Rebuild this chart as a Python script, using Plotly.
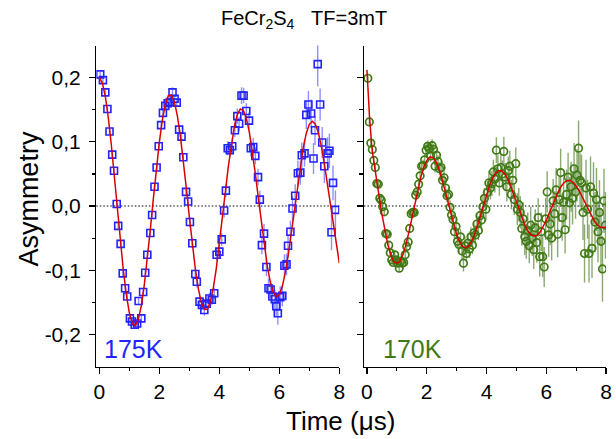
import plotly.graph_objects as go

# ---------------- data ----------------
# 175 K panel (measured points)
left_t = [0.03, 0.12, 0.20, 0.27, 0.34, 0.43, 0.49, 0.58, 0.63, 0.71,
          0.78, 0.86, 0.93, 1.02, 1.09, 1.18, 1.26, 1.31, 1.40, 1.46,
          1.53, 1.60, 1.70, 1.76, 1.84, 1.91, 1.98, 2.06, 2.12, 2.20,
          2.28, 2.35, 2.44, 2.51, 2.58, 2.66, 2.74, 2.80, 2.89, 2.96,
          3.02, 3.10, 3.20, 3.25, 3.34, 3.42, 3.50, 3.58, 3.67, 3.75,
          3.83, 3.91, 4.00, 4.08, 4.16, 4.22, 4.28, 4.35, 4.43, 4.52,
          4.60, 4.66, 4.74, 4.81, 4.90, 4.99, 5.05, 5.13, 5.20, 5.29,
          5.35, 5.42, 5.49, 5.57, 5.64, 5.71, 5.77, 5.85, 5.90, 5.95,
          6.03, 6.10, 6.17, 6.24, 6.29, 6.37, 6.44, 6.53, 6.62, 6.70,
          6.75, 6.84, 6.90, 6.97, 7.06, 7.14, 7.19, 7.28, 7.36, 7.43,
          7.50, 7.61, 7.67, 7.74, 7.79, 7.87]
left_a = [0.205, 0.196, 0.177, 0.151, 0.116, 0.080, 0.055, 0.003, -0.031, -0.059,
          -0.105, -0.128, -0.141, -0.175, -0.180, -0.185, -0.183, -0.148, -0.175, -0.134,
          -0.104, -0.076, -0.042, -0.014, 0.030, 0.060, 0.093, 0.126, 0.145, 0.156,
          0.160, 0.162, 0.177, 0.167, 0.161, 0.119, 0.108, 0.076, 0.022, 0.007,
          -0.025, -0.058, -0.106, -0.118, -0.149, -0.154, -0.162, -0.152, -0.144, -0.146,
          -0.136, -0.076, -0.071, -0.052, -0.007, 0.024, 0.090, 0.087, 0.093, 0.118,
          0.140, 0.128, 0.172, 0.172, 0.148, 0.133, 0.090, 0.092, 0.078, 0.045,
          0.010, -0.061, -0.043, -0.095, -0.128, -0.130, -0.141, -0.145, -0.156, -0.167,
          -0.142, -0.140, -0.093, -0.091, -0.062, -0.040, -0.004, 0.016, 0.051, 0.052,
          0.079, 0.082, 0.142, 0.158, 0.144, 0.074, 0.118, 0.221, 0.158, 0.099,
          0.062, 0.082, 0.086, -0.041, 0.036, -0.006]
left_err = [0.004, 0.004, 0.004, 0.004, 0.004, 0.004, 0.004, 0.004, 0.004, 0.004,
            0.004, 0.004, 0.004, 0.005, 0.005, 0.005, 0.005, 0.005, 0.005, 0.005,
            0.005, 0.005, 0.005, 0.005, 0.005, 0.005, 0.005, 0.006, 0.006, 0.006,
            0.006, 0.007, 0.008, 0.006, 0.006, 0.006, 0.007, 0.006, 0.006, 0.007,
            0.008, 0.008, 0.008, 0.009, 0.008, 0.008, 0.009, 0.008, 0.009, 0.008,
            0.009, 0.009, 0.010, 0.010, 0.011, 0.010, 0.011, 0.010, 0.012, 0.011,
            0.012, 0.011, 0.013, 0.012, 0.012, 0.013, 0.013, 0.014, 0.013, 0.013,
            0.014, 0.014, 0.015, 0.014, 0.015, 0.014, 0.016, 0.015, 0.015, 0.018,
            0.017, 0.016, 0.018, 0.017, 0.018, 0.017, 0.019, 0.018, 0.020, 0.019,
            0.020, 0.021, 0.022, 0.021, 0.022, 0.024, 0.023, 0.035, 0.025, 0.024,
            0.026, 0.025, 0.027, 0.028, 0.027, 0.030]

# 175 K fit curve
fit_left_t = [0.0, 0.1, 0.2, 0.3, 0.4, 0.5, 0.6, 0.7, 0.8, 0.9,
              1.0, 1.1, 1.2, 1.3, 1.4, 1.5, 1.6, 1.7, 1.8, 1.9,
              2.0, 2.1, 2.2, 2.3, 2.4, 2.5, 2.6, 2.7, 2.8, 2.9,
              3.0, 3.1, 3.2, 3.3, 3.4, 3.5, 3.6, 3.7, 3.8, 3.9,
              4.0, 4.1, 4.2, 4.3, 4.4, 4.5, 4.6, 4.7, 4.8, 4.9,
              5.0, 5.1, 5.2, 5.3, 5.4, 5.5, 5.6, 5.7, 5.8, 5.9,
              6.0, 6.1, 6.2, 6.3, 6.4, 6.5, 6.6, 6.7, 6.8, 6.9,
              7.0, 7.1, 7.2, 7.3, 7.4, 7.5, 7.6, 7.7, 7.8, 7.9, 8.0]
fit_left = [0.2000, 0.1919, 0.1706, 0.1375, 0.0954, 0.0472, -0.0038, -0.0540, -0.0998, -0.1381,
            -0.1664, -0.1828, -0.1864, -0.1769, -0.1552, -0.1229, -0.0826, -0.0369, 0.0107, 0.0571,
            0.0990, 0.1335, 0.1583, 0.1718, 0.1732, 0.1626, 0.1408, 0.1095, 0.0709, 0.0278,
            -0.0167, -0.0595, -0.0977, -0.1286, -0.1503, -0.1613, -0.1609, -0.1493, -0.1276, -0.0971,
            -0.0603, -0.0198, 0.0217, 0.0612, 0.0960, 0.1237, 0.1425, 0.1511, 0.1492, 0.1369,
            0.1152, 0.0858, 0.0508, 0.0126, -0.0260, -0.0623, -0.0939, -0.1186, -0.1347, -0.1414,
            -0.1380, -0.1252, -0.1038, -0.0754, -0.0422, -0.0063, 0.0295, 0.0629, 0.0915, 0.1134,
            0.1272, 0.1320, 0.1276, 0.1143, 0.0932, 0.0660, 0.0344, 0.0008, -0.0324, -0.0630, -0.0889]

# 170 K panel (measured points)
right_t = [0.03, 0.08, 0.13, 0.18, 0.23, 0.28, 0.33, 0.38, 0.43, 0.48,
           0.53, 0.58, 0.63, 0.68, 0.73, 0.78, 0.83, 0.88, 0.93, 0.98,
           1.03, 1.08, 1.13, 1.18, 1.23, 1.28, 1.33, 1.38, 1.43, 1.48,
           1.53, 1.58, 1.63, 1.68, 1.73, 1.78, 1.83, 1.88, 1.93, 1.98,
           2.03, 2.08, 2.13, 2.18, 2.23, 2.28, 2.33, 2.38, 2.43, 2.48,
           2.53, 2.58, 2.63, 2.68, 2.73, 2.78, 2.83, 2.88, 2.93, 2.98,
           3.03, 3.08, 3.13, 3.18, 3.23, 3.28, 3.33, 3.38, 3.43, 3.48,
           3.53, 3.58, 3.63, 3.68, 3.73, 3.78, 3.83, 3.88, 3.93, 3.98,
           4.03, 4.08, 4.13, 4.18, 4.23, 4.28, 4.33, 4.38, 4.43, 4.48,
           4.53, 4.58, 4.63, 4.68, 4.73, 4.78, 4.83, 4.88, 4.93, 4.98,
           5.03, 5.08, 5.13, 5.18, 5.23, 5.28, 5.33, 5.38, 5.43, 5.48,
           5.53, 5.58, 5.63, 5.68, 5.73, 5.78, 5.83, 5.88, 5.93, 5.98,
           6.03, 6.08, 6.13, 6.18, 6.23, 6.28, 6.33, 6.38, 6.43, 6.48,
           6.53, 6.58, 6.63, 6.68, 6.73, 6.78, 6.83, 6.88, 6.93, 6.98,
           7.03, 7.08, 7.13, 7.18, 7.23, 7.28, 7.33, 7.38, 7.43, 7.48,
           7.53, 7.58, 7.63, 7.68, 7.73, 7.78, 7.83, 7.88, 7.93, 7.98]
right_a = [0.199, 0.131, 0.098, 0.088, 0.071, 0.060, 0.035, 0.034, 0.012, 0.009,
           -0.001, -0.009, -0.043, -0.044, -0.061, -0.073, -0.084, -0.088, -0.076, -0.084,
           -0.089, -0.097, -0.086, -0.089, -0.088, -0.076, -0.063, -0.056, -0.035, -0.012,
           -0.010, -0.010, 0.017, 0.022, 0.034, 0.047, 0.062, 0.063, 0.072, 0.087,
           0.093, 0.089, 0.078, 0.094, 0.088, 0.062, 0.079, 0.069, 0.058, 0.060,
           0.040, 0.044, 0.028, 0.016, 0.018, -0.002, -0.014, -0.021, -0.040, -0.032,
           -0.055, -0.060, -0.048, -0.070, -0.089, -0.062, -0.074, -0.058, -0.067, -0.048,
           -0.061, -0.042, -0.045, -0.028, -0.038, -0.015, -0.022, -0.001, 0.012, -0.005,
           0.021, 0.036, 0.028, 0.035, 0.053, 0.042, 0.087, 0.058, 0.036, 0.060,
           0.050, 0.085, 0.045, 0.030, 0.055, 0.062, 0.018, 0.040, 0.010, 0.066,
           -0.005, 0.002, -0.010, -0.035, -0.020, -0.048, -0.055, -0.038, -0.062, -0.030,
           -0.050, -0.068, -0.034, -0.057, -0.018, -0.079, -0.040, -0.079, -0.095, -0.020,
           0.022, -0.045, -0.028, -0.050, 0.008, -0.012, 0.025, -0.044, 0.010, 0.052,
           -0.018, 0.006, -0.037, 0.018, 0.045, 0.005, 0.030, 0.012, 0.058, 0.022,
           0.048, 0.090, 0.040, 0.036, -0.010, -0.074, 0.028, -0.005, -0.074, 0.030,
           -0.066, 0.020, -0.025, 0.010, -0.040, -0.010, -0.055, -0.098, 0.008, -0.030]
right_err = [0.004, 0.004, 0.004, 0.004, 0.004, 0.004, 0.004, 0.005, 0.004, 0.005,
             0.005, 0.005, 0.005, 0.006, 0.005, 0.005, 0.006, 0.005, 0.006, 0.006,
             0.006, 0.006, 0.007, 0.006, 0.006, 0.007, 0.006, 0.007, 0.007, 0.007,
             0.007, 0.008, 0.007, 0.008, 0.007, 0.008, 0.008, 0.009, 0.008, 0.009,
             0.009, 0.008, 0.009, 0.010, 0.009, 0.010, 0.009, 0.010, 0.010, 0.011,
             0.010, 0.011, 0.011, 0.010, 0.012, 0.011, 0.012, 0.011, 0.012, 0.013,
             0.012, 0.013, 0.012, 0.014, 0.013, 0.014, 0.013, 0.015, 0.014, 0.015,
             0.014, 0.016, 0.015, 0.016, 0.015, 0.017, 0.016, 0.017, 0.016, 0.018,
             0.018, 0.019, 0.018, 0.020, 0.019, 0.021, 0.020, 0.021, 0.020, 0.022,
             0.021, 0.023, 0.022, 0.023, 0.022, 0.024, 0.023, 0.025, 0.024, 0.025,
             0.025, 0.026, 0.025, 0.027, 0.026, 0.028, 0.027, 0.028, 0.027, 0.029,
             0.028, 0.030, 0.029, 0.031, 0.030, 0.031, 0.030, 0.032, 0.031, 0.033,
             0.032, 0.034, 0.033, 0.035, 0.034, 0.035, 0.034, 0.036, 0.035, 0.037,
             0.036, 0.038, 0.037, 0.039, 0.038, 0.040, 0.039, 0.041, 0.040, 0.042,
             0.041, 0.043, 0.042, 0.044, 0.043, 0.045, 0.044, 0.046, 0.045, 0.047,
             0.046, 0.048, 0.047, 0.049, 0.048, 0.050, 0.049, 0.051, 0.050, 0.052]

# 170 K fit curve
fit_right_t = [0.0, 0.02, 0.04, 0.06, 0.08, 0.10, 0.13, 0.16, 0.20, 0.25, 0.30, 0.35, 0.40, 0.45,
               0.5, 0.6, 0.7, 0.8, 0.9, 1.0, 1.1, 1.2, 1.3, 1.4,
               1.5, 1.6, 1.7, 1.8, 1.9, 2.0, 2.1, 2.2, 2.3, 2.4,
               2.5, 2.6, 2.7, 2.8, 2.9, 3.0, 3.1, 3.2, 3.3, 3.4,
               3.5, 3.6, 3.7, 3.8, 3.9, 4.0, 4.1, 4.2, 4.3, 4.4,
               4.5, 4.6, 4.7, 4.8, 4.9, 5.0, 5.1, 5.2, 5.3, 5.4,
               5.5, 5.6, 5.7, 5.8, 5.9, 6.0, 6.1, 6.2, 6.3, 6.4,
               6.5, 6.6, 6.7, 6.8, 6.9, 7.0, 7.1, 7.2, 7.3, 7.4,
               7.5, 7.6, 7.7, 7.8, 7.9, 8.0]
fit_right = [0.212, 0.200, 0.182, 0.162, 0.143, 0.127, 0.108, 0.094, 0.079, 0.062, 0.047, 0.032, 0.017, 0.002,
             -0.0127, -0.0387, -0.0606, -0.0768, -0.0866, -0.0897, -0.0859, -0.0762, -0.0609, -0.0414,
             -0.0195, 0.0032, 0.0250, 0.0444, 0.0600, 0.0708, 0.0761, 0.0757, 0.0698, 0.0589,
             0.0441, 0.0265, 0.0073, -0.0118, -0.0295, -0.0446, -0.0560, -0.0629, -0.0652, -0.0625,
             -0.0554, -0.0445, -0.0305, -0.0147, 0.0016, 0.0175, 0.0315, 0.0430, 0.0509, 0.0549,
             0.0548, 0.0507, 0.0430, 0.0324, 0.0196, 0.0059, -0.0080, -0.0208, -0.0318, -0.0402,
             -0.0453, -0.0470, -0.0453, -0.0403, -0.0325, -0.0225, -0.0111, 0.0007, 0.0122, 0.0224,
             0.0308, 0.0366, 0.0397, 0.0397, 0.0368, 0.0313, 0.0237, 0.0146, 0.0046, -0.0054,
             -0.0147, -0.0227, -0.0289, -0.0327, -0.0340, -0.0328]

# ticks
x_tickvals = [0, 2, 4, 6, 8]
x_ticktext = ["0", "2", "4", "6", "8"]
x_minor = [1, 3, 5, 7]
y_tickvals = [-0.2, -0.1, 0.0, 0.1, 0.2]
y_ticktext = ["-0,2", "-0,1", "0,0", "0,1", "0,2"]
y_minor = [-0.15, -0.05, 0.05, 0.15]

# ---------------- style ----------------
FONT = "Liberation Sans, Arial, sans-serif"
BLUE = "#2323ff"
BLUE_ERR = "rgba(70,70,255,0.6)"
GREEN = "#3f7a14"
GREEN_ERR = "rgba(75,125,35,0.65)"
RED = "#d80000"

XL = [94.7 / 616, 341.3 / 616]
XR = [366.3 / 616, 612.0 / 616]
YD = [1 - 366.5 / 439, 1 - 45.5 / 439]
XRANGE = [-0.1, 8.0]
YRANGE = [-0.25, 0.25]

fig = go.Figure()

fig.add_trace(go.Scatter(
    x=left_t, y=left_a, mode="markers", xaxis="x", yaxis="y",
    error_y=dict(type="data", array=left_err, visible=True, color=BLUE_ERR,
                 thickness=1.4, width=0),
    marker=dict(symbol="square-open", size=7, color=BLUE, line=dict(width=1.6)),
    showlegend=False))
fig.add_trace(go.Scatter(
    x=fit_left_t, y=fit_left, mode="lines", xaxis="x", yaxis="y",
    line=dict(color=RED, width=1.5), showlegend=False))

fig.add_trace(go.Scatter(
    x=right_t, y=right_a, mode="markers", xaxis="x2", yaxis="y2",
    error_y=dict(type="data", array=right_err, visible=True, color=GREEN_ERR,
                 thickness=1.4, width=0),
    marker=dict(symbol="circle-open", size=7.5, color=GREEN, line=dict(width=1.7)),
    showlegend=False))
fig.add_trace(go.Scatter(
    x=fit_right_t, y=fit_right, mode="lines", xaxis="x2", yaxis="y2",
    line=dict(color=RED, width=1.5), showlegend=False))


def xax(**kw):
    d = dict(range=XRANGE, tickmode="array", tickvals=x_tickvals, ticktext=x_ticktext,
             ticklen=6, tickwidth=1.3, tickcolor="black",
             minor=dict(tickmode="array", tickvals=x_minor, ticklen=3.5, tickwidth=1.2,
                        tickcolor="black"),
             showline=True, linecolor="black", linewidth=1.3, showgrid=False,
             zeroline=False, tickfont=dict(family=FONT, size=21, color="black"))
    d.update(kw)
    d["minor"]["ticks"] = d["ticks"]
    return d


def yax(**kw):
    d = dict(range=YRANGE, tickmode="array", tickvals=y_tickvals, ticktext=y_ticktext,
             ticklen=6, tickwidth=1.3, tickcolor="black",
             minor=dict(tickmode="array", tickvals=y_minor, ticklen=3.5, tickwidth=1.2,
                        tickcolor="black"),
             showline=True, linecolor="black", linewidth=1.3, showgrid=False,
             zeroline=False, tickfont=dict(family=FONT, size=21, color="black"))
    d.update(kw)
    d["minor"]["ticks"] = d["ticks"]
    return d


fig.update_layout(
    width=616, height=439,
    margin=dict(l=0, r=0, t=0, b=0),
    paper_bgcolor="white", plot_bgcolor="white",
    showlegend=False,
    font=dict(family=FONT, color="black"),
    xaxis=xax(domain=XL, anchor="y", ticks="outside"),
    yaxis=yax(domain=YD, anchor="x", ticks="outside", ticklabelstandoff=4),
    xaxis3=xax(overlaying="x", side="top", anchor="y", ticks="inside", showticklabels=False),
    yaxis3=yax(overlaying="y", side="right", anchor="x", ticks="inside", showticklabels=False),
    xaxis2=xax(domain=XR, anchor="y2", ticks="outside"),
    yaxis2=yax(domain=YD, anchor="x2", ticks="outside", showticklabels=False),
    xaxis4=xax(overlaying="x2", side="top", anchor="y2", ticks="inside", showticklabels=False),
    yaxis4=yax(overlaying="y2", side="right", anchor="x2", ticks="inside", showticklabels=False),
    shapes=[
        dict(type="line", xref="x domain", yref="y", x0=0, x1=1, y0=0, y1=0,
             line=dict(color="#555555", width=1.3, dash="1.5px,2px"), layer="below"),
        dict(type="line", xref="x2 domain", yref="y2", x0=0, x1=1, y0=0, y1=0,
             line=dict(color="#555555", width=1.3, dash="1.5px,2px"), layer="below"),
    ],
    annotations=[
        dict(text="FeCr<sub>2</sub>S<sub>4</sub>\u00a0\u00a0\u00a0TF=3mT", xref="paper", yref="paper",
             x=305 / 616, y=1 - 20 / 439, xanchor="center", yanchor="middle",
             showarrow=False, font=dict(family=FONT, size=20, color="black")),
        dict(text="Asymmetry", xref="paper", yref="paper", textangle=-90,
             x=26 / 616, y=1 - 199 / 439, xanchor="center", yanchor="middle",
             showarrow=False, font=dict(family=FONT, size=27, color="black")),
        dict(text="Time (μs)", xref="paper", yref="paper",
             x=343 / 616, y=1 - 421 / 439, xanchor="center", yanchor="middle",
             showarrow=False, font=dict(family=FONT, size=26, color="black")),
        dict(text="175K", xref="paper", yref="paper",
             x=100 / 616, y=1 - 349 / 439, xanchor="left", yanchor="middle",
             showarrow=False, font=dict(family=FONT, size=25, color=BLUE)),
        dict(text="170K", xref="paper", yref="paper",
             x=384 / 616, y=1 - 349 / 439, xanchor="left", yanchor="middle",
             showarrow=False, font=dict(family=FONT, size=25, color=GREEN)),
    ],
)

fig.write_html("out.html", config={"displayModeBar": False, "staticPlot": True})

# remove the browser's default page margin so the 616x439 figure fills the window
with open("out.html", "r", encoding="utf-8") as f:
    html = f.read()
html = html.replace("<head>", "<head><style>html,body{margin:0;padding:0;overflow:hidden;}</style>", 1)
with open("out.html", "w", encoding="utf-8") as f:
    f.write(html)
